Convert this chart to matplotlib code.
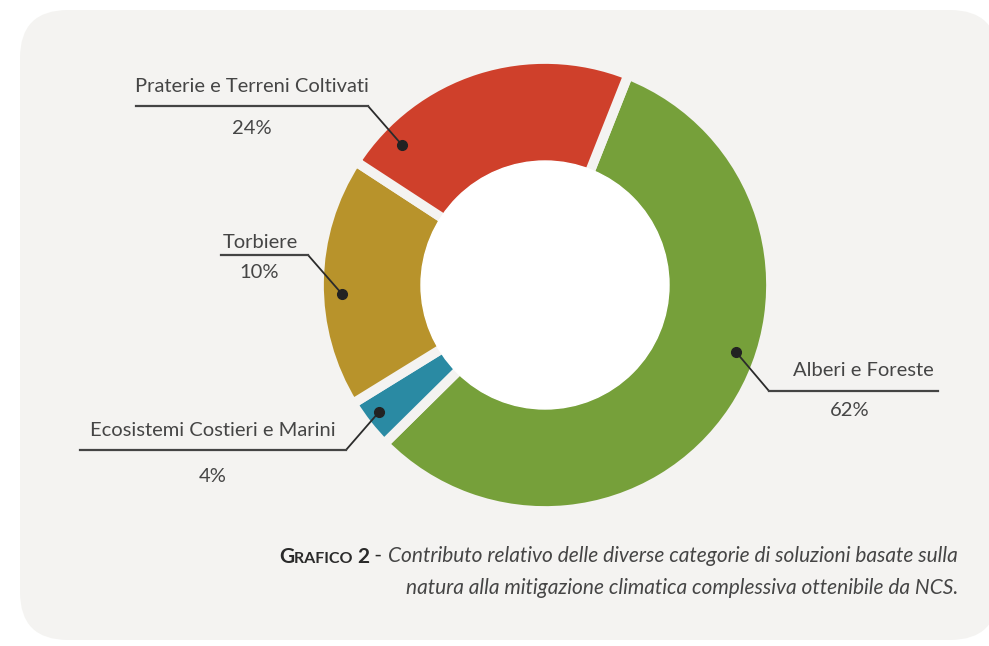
import matplotlib
matplotlib.use("Agg")
import matplotlib.pyplot as plt
from matplotlib.patches import FancyBboxPatch

# quote dal grafico (ordine orario partendo dall'alto a destra)
categorie = ["Alberi e Foreste", "Ecosistemi Costieri e Marini", "Torbiere", "Praterie e Terreni Coltivati"]
quote_visive = [56.6, 3.6, 18.0, 21.8]   # ampiezza degli spicchi
etichette_pct = ["62%", "4%", "10%", "24%"]
colori = ["#76a03a", "#2a8aa3", "#b8932b", "#cf402b"]

didascalia_1 = "Contributo relativo delle diverse categorie di soluzioni basate sulla"
didascalia_2 = "natura alla mitigazione climatica complessiva ottenibile da NCS."

W, H = 989, 646
BG = "#f4f3f1"
TXT = "#454545"
LINE = "#2b2b2b"
FONT = ["Lato", "DejaVu Sans"]


def Y(y):
    return H - y


fig = plt.figure(figsize=(W / 100, H / 100), dpi=100)
fig.patch.set_facecolor("white")
ax = fig.add_axes([0, 0, 1, 1])
ax.set_xlim(0, W)
ax.set_ylim(0, H)
ax.axis("off")

# pannello di sfondo arrotondato
ax.add_patch(FancyBboxPatch((20, Y(640)), 978, 630, boxstyle="round,pad=0,rounding_size=48",
                            facecolor=BG, edgecolor="none", zorder=0))

# ciambella
cx, cy = 545, Y(285)
ax.pie(quote_visive, colors=colori, center=(cx, cy), radius=226, startangle=68.4,
       counterclock=False, wedgeprops=dict(width=107, edgecolor=BG, linewidth=7))
ax.add_patch(plt.Circle((cx, cy), 124, color="white", zorder=3))
ax.set_xlim(0, W)
ax.set_ylim(0, H)
ax.set_aspect("auto")

# linee guida: punto, gomito, estremo della linea orizzontale
guide = {
    "Praterie e Terreni Coltivati": [(402, 145), (368, 106), (136, 106)],
    "Torbiere": [(342, 294), (308, 255), (221, 255)],
    "Ecosistemi Costieri e Marini": [(379, 412), (346, 450), (80, 450)],
    "Alberi e Foreste": [(736, 352), (769, 391), (938, 391)],
}
pos_testo = {
    "Praterie e Terreni Coltivati": ((252, 86), (252, 128)),
    "Torbiere": ((260, 242), (259, 272)),
    "Ecosistemi Costieri e Marini": ((213, 431), (213, 477)),
    "Alberi e Foreste": ((863, 371), (850, 411)),
}

for cat, pct in zip(categorie, etichette_pct):
    pts = guide[cat]
    ax.plot([pts[0][0], pts[1][0]], [Y(pts[0][1]), Y(pts[1][1])], color=LINE, lw=1.3, zorder=5,
            solid_capstyle="round")
    ax.plot([pts[1][0], pts[2][0]], [Y(pts[1][1]), Y(pts[2][1])], color="#444444", lw=1.6, zorder=5)
    ax.plot(pts[0][0], Y(pts[0][1]), "o", color="#222222", ms=7, zorder=6)
    (tx, ty), (px, py) = pos_testo[cat]
    ax.text(tx, Y(ty), cat, ha="center", va="center", fontsize=14.5, color=TXT,
            family=FONT, fontweight="normal", zorder=6)
    ax.text(px, Y(py), pct, ha="center", va="center", fontsize=14.5, color=TXT,
            family=FONT, fontweight="normal", zorder=6)

# didascalia
fig.canvas.draw()
r = fig.canvas.get_renderer()
inv = ax.transData.inverted()

t = ax.text(958, Y(556), didascalia_1, ha="right", va="center", fontsize=15, color=TXT,
            family=FONT, fontweight="normal", style="italic")
x_left = inv.transform(t.get_window_extent(r))[0][0]
pezzi = [(" - ", 15, "normal"), ("2", 15, "bold"), ("RAFICO ", 11.5, "bold"), ("G", 15, "bold")]
for s, fs, fw in pezzi:
    t = ax.text(x_left, Y(556), s, ha="right", va="baseline", fontsize=fs, color="#2a2a2a",
                family=FONT, fontweight=fw)
    if s == " - ":
        t.set_va("center")
        t.set_position((x_left - 1, Y(556)))
    else:
        t.set_position((x_left, Y(563)))
    x_left = inv.transform(t.get_window_extent(r))[0][0]

ax.text(958, Y(588), didascalia_2, ha="right", va="center", fontsize=15, color=TXT,
        family=FONT, fontweight="normal", style="italic")

fig.savefig("out.png", dpi=100, facecolor="white")
